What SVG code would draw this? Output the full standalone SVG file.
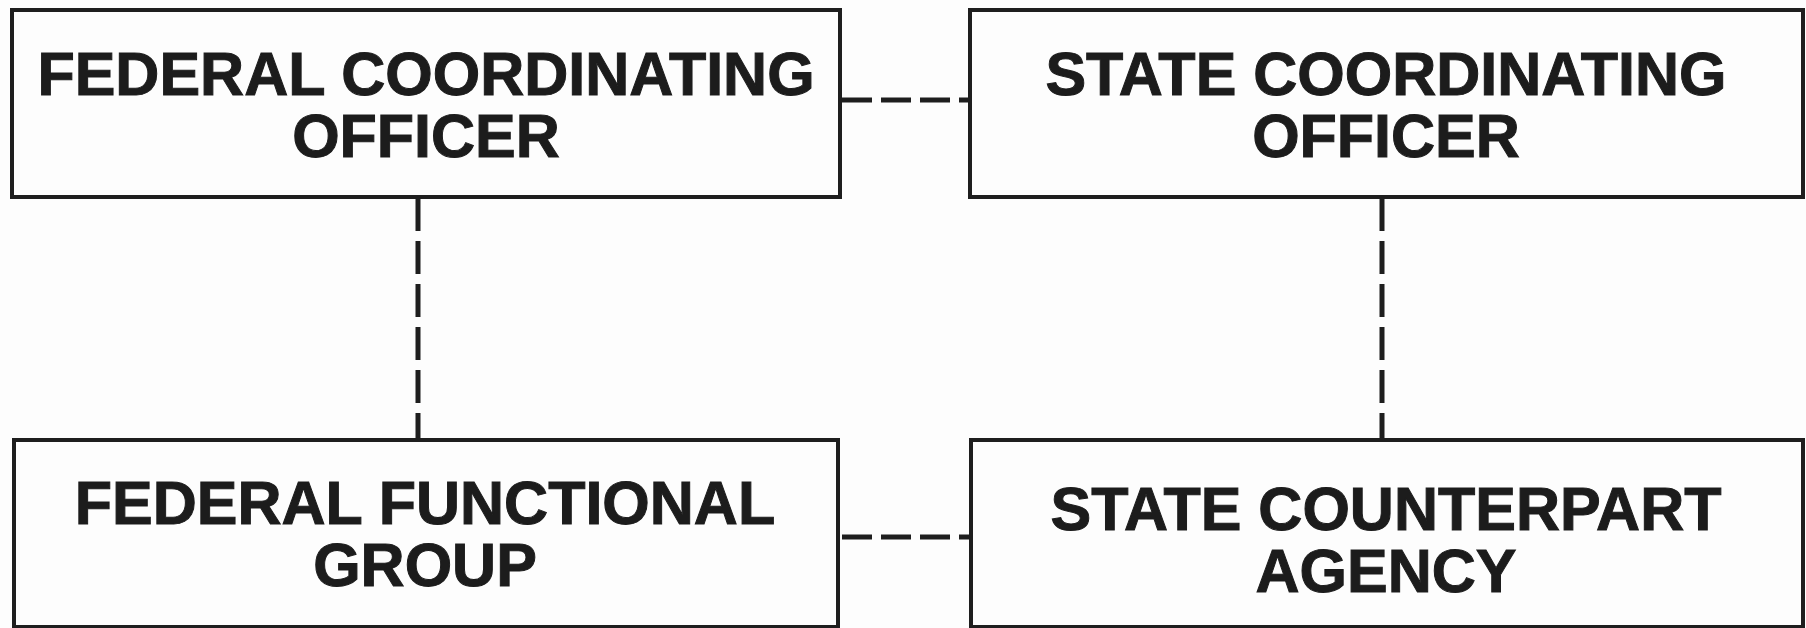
<svg xmlns="http://www.w3.org/2000/svg" width="1806" height="628" viewBox="0 0 1806 628">
<style>
.box{fill:#fdfdfd;stroke:#1e1e1e;stroke-width:4}
.lbl{font-family:"Liberation Sans",Arial,sans-serif;font-weight:bold;font-size:61px;fill:#1c1c1c;stroke:#1c1c1c;stroke-width:1;text-anchor:middle}
.dash{stroke:#1e1e1e;stroke-width:5;fill:none;stroke-dasharray:30 9}
</style>
<rect width="1806" height="628" fill="#fdfdfd"/>
<g id="connectors">
<line class="dash" x1="842" y1="100" x2="969" y2="100"/>
<line class="dash" x1="842" y1="537" x2="969" y2="537"/>
<line class="dash" x1="418" y1="198" x2="418" y2="440" style="stroke-dasharray:33 10"/>
<line class="dash" x1="1382" y1="198" x2="1382" y2="440" style="stroke-dasharray:33 10"/>
</g>
<g id="fco">
<rect class="box" x="12" y="10" width="828" height="187"/>
<text class="lbl" x="426" y="95">FEDERAL COORDINATING</text>
<text class="lbl" x="426" y="157">OFFICER</text>
</g>
<g id="sco">
<rect class="box" x="970" y="10" width="833" height="187"/>
<text class="lbl" x="1386" y="95">STATE COORDINATING</text>
<text class="lbl" x="1386" y="157">OFFICER</text>
</g>
<g id="ffg">
<rect class="box" x="14" y="440" width="824" height="187"/>
<text class="lbl" x="425" y="524">FEDERAL FUNCTIONAL</text>
<text class="lbl" x="425" y="586">GROUP</text>
</g>
<g id="sca">
<rect class="box" x="971" y="440" width="832" height="187"/>
<text class="lbl" x="1386" y="530">STATE COUNTERPART</text>
<text class="lbl" x="1386" y="592">AGENCY</text>
</g>
</svg>
